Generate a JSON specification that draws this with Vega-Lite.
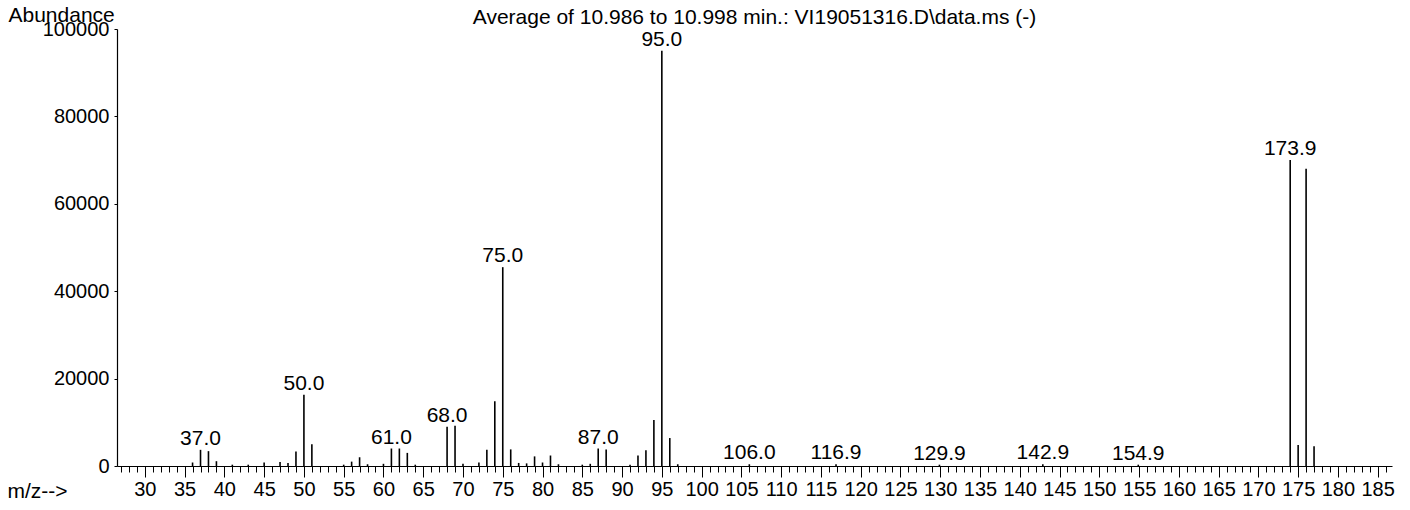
{
  "$schema": "https://vega.github.io/schema/vega-lite/v6.json",
  "autosize": {"type": "none"},
  "padding": {"left": 117, "top": 29, "right": 18, "bottom": 44},
  "width": 1275,
  "height": 437,
  "background": "white",
  "title": {
    "text": "Average of 10.986 to 10.998 min.: VI19051316.D\\data.ms (-)",
    "font": "Liberation Sans", "fontSize": 21, "fontWeight": "normal", "color": "black",
    "anchor": "middle", "frame": "group", "baseline": "alphabetic", "offset": 4, "dy": 45
  },
  "data": {"values": [
    {"mz": 36, "abundance": 800},
    {"mz": 37, "abundance": 3700, "label": "37.0"},
    {"mz": 38, "abundance": 3400},
    {"mz": 39, "abundance": 1100},
    {"mz": 41, "abundance": 300},
    {"mz": 43, "abundance": 300},
    {"mz": 45, "abundance": 800},
    {"mz": 47, "abundance": 900},
    {"mz": 48, "abundance": 700},
    {"mz": 49, "abundance": 3300},
    {"mz": 50, "abundance": 16300, "label": "50.0"},
    {"mz": 51, "abundance": 5000},
    {"mz": 55, "abundance": 300},
    {"mz": 56, "abundance": 1000},
    {"mz": 57, "abundance": 2000},
    {"mz": 58, "abundance": 400},
    {"mz": 60, "abundance": 500},
    {"mz": 61, "abundance": 4000, "label": "61.0"},
    {"mz": 62, "abundance": 4000},
    {"mz": 63, "abundance": 3000},
    {"mz": 64, "abundance": 300},
    {"mz": 68, "abundance": 9000, "label": "68.0"},
    {"mz": 69, "abundance": 9200},
    {"mz": 70, "abundance": 500},
    {"mz": 72, "abundance": 800},
    {"mz": 73, "abundance": 3700},
    {"mz": 74, "abundance": 14800},
    {"mz": 75, "abundance": 45500, "label": "75.0"},
    {"mz": 76, "abundance": 3800},
    {"mz": 77, "abundance": 700},
    {"mz": 78, "abundance": 600},
    {"mz": 79, "abundance": 2200},
    {"mz": 80, "abundance": 800},
    {"mz": 81, "abundance": 2400},
    {"mz": 82, "abundance": 400},
    {"mz": 85, "abundance": 300},
    {"mz": 86, "abundance": 500},
    {"mz": 87, "abundance": 4000, "label": "87.0"},
    {"mz": 88, "abundance": 3800},
    {"mz": 91, "abundance": 300},
    {"mz": 92, "abundance": 2400},
    {"mz": 93, "abundance": 3600},
    {"mz": 94, "abundance": 10500},
    {"mz": 95, "abundance": 95000, "label": "95.0"},
    {"mz": 96, "abundance": 6400},
    {"mz": 97, "abundance": 400},
    {"mz": 106, "abundance": 400, "label": "106.0"},
    {"mz": 116.9, "abundance": 400, "label": "116.9"},
    {"mz": 129.9, "abundance": 300, "label": "129.9"},
    {"mz": 142.9, "abundance": 400, "label": "142.9"},
    {"mz": 154.9, "abundance": 300, "label": "154.9"},
    {"mz": 174, "abundance": 70000, "label": "173.9"},
    {"mz": 175, "abundance": 4800},
    {"mz": 176, "abundance": 68000},
    {"mz": 177, "abundance": 4500}
  ]},
  "encoding": {
    "x": {
      "field": "mz", "type": "quantitative",
      "scale": {"domain": [26.5, 186.8], "nice": false, "zero": false},
      "axis": {
        "values": [27,28,29,30,31,32,33,34,35,36,37,38,39,40,41,42,43,44,45,46,47,48,49,50,51,52,53,54,55,56,57,58,59,60,61,62,63,64,65,66,67,68,69,70,71,72,73,74,75,76,77,78,79,80,81,82,83,84,85,86,87,88,89,90,91,92,93,94,95,96,97,98,99,100,101,102,103,104,105,106,107,108,109,110,111,112,113,114,115,116,117,118,119,120,121,122,123,124,125,126,127,128,129,130,131,132,133,134,135,136,137,138,139,140,141,142,143,144,145,146,147,148,149,150,151,152,153,154,155,156,157,158,159,160,161,162,163,164,165,166,167,168,169,170,171,172,173,174,175,176,177,178,179,180,181,182,183,184,185,186],
        "labelExpr": "datum.value % 5 === 0 ? datum.label : ''",
        "tickSize": {"condition": {"test": "datum.value % 5 === 0", "value": 11}, "value": 6},
        "labelPadding": 2,
        "labelFont": "Liberation Sans", "labelFontSize": 20, "labelColor": "black",
        "labelOverlap": false, "labelFlush": false,
        "grid": false, "domainColor": "black", "tickColor": "black", "tickWidth": 1, "domainWidth": 1.2,
        "title": "m/z-->", "titleX": -110, "titleY": 31, "titleAlign": "left", "titleBaseline": "alphabetic",
        "titleFont": "Liberation Sans", "titleFontSize": 21, "titleFontWeight": "normal", "titleColor": "black"
      }
    },
    "y": {
      "field": "abundance", "type": "quantitative",
      "scale": {"domain": [0, 100000], "nice": false},
      "axis": {
        "values": [0, 20000, 40000, 60000, 80000, 100000],
        "format": "d",
        "grid": false, "tickSize": 3, "labelPadding": 5,
        "labelFont": "Liberation Sans", "labelFontSize": 20, "labelColor": "black",
        "domainColor": "black", "tickColor": "black", "domainWidth": 1.2,
        "title": "Abundance", "titleAngle": 0, "titleX": -109, "titleY": -8,
        "titleAlign": "left", "titleBaseline": "alphabetic",
        "titleFont": "Liberation Sans", "titleFontSize": 21, "titleFontWeight": "normal", "titleColor": "black"
      }
    }
  },
  "layer": [
    {
      "mark": {"type": "rule", "color": "black", "strokeWidth": 1.6},
      "encoding": {"y2": {"datum": 0}}
    },
    {
      "transform": [{"filter": "isValid(datum.label)"}],
      "mark": {"type": "text", "font": "Liberation Sans", "fontSize": 21, "baseline": "alphabetic", "dy": -5, "color": "black"},
      "encoding": {"text": {"field": "label"}}
    }
  ],
  "config": {"view": {"stroke": null}}
}
